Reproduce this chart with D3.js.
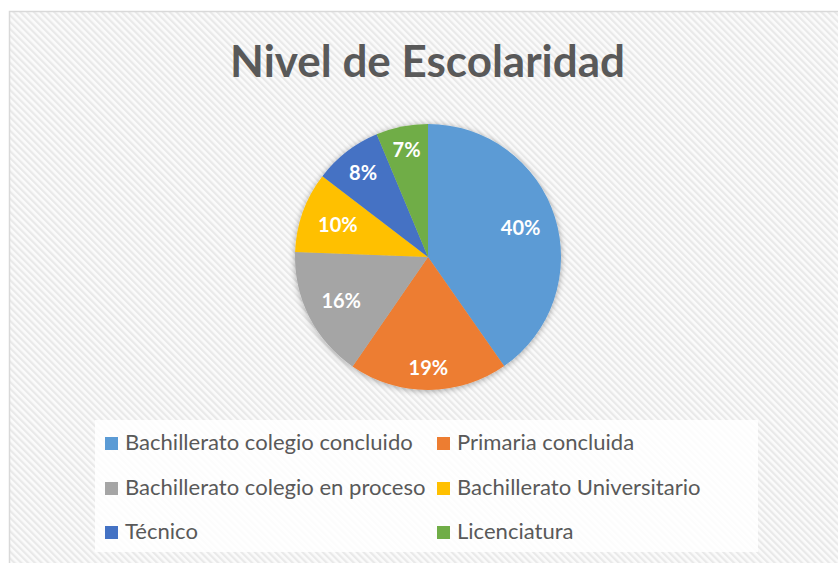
<!DOCTYPE html>
<html><head><meta charset="utf-8">
<script src="https://cdn.jsdelivr.net/npm/d3@7"></script>
<style>body{margin:0;background:#fff;overflow:hidden}</style>
</head><body><svg id="c" width="838" height="563"></svg>
<script>
// ---- data ----
const title = "Nivel de Escolaridad";
const categories = ["Bachillerato colegio concluido", "Primaria concluida", "Bachillerato colegio en proceso", "Bachillerato Universitario", "Técnico", "Licenciatura"];
const values = [40.3, 19.3, 16.0, 9.8, 8.3, 6.3];
const valueLabels = ["40%", "19%", "16%", "10%", "8%", "7%"];

// ---- style / layout ----
const colors = ["#5B9BD5", "#ED7D31", "#A5A5A5", "#FFC000", "#4472C4", "#70AD47"];
const labelRadiusRatio = [0.73, 0.835, 0.73, 0.72, 0.8, 0.82];
const W = 838, H = 563;
const cx = 428, cy = 257, R = 133;
const FONT = "Lato, 'Open Sans', sans-serif";

const svg = d3.select("#c");
const defs = svg.append("defs");
const pat = defs.append("pattern").attr("id", "hatch").attr("patternUnits", "userSpaceOnUse")
  .attr("width", 4.8).attr("height", 4.8).attr("patternTransform", "rotate(-45)");
pat.append("rect").attr("width", 4.8).attr("height", 4.8).attr("fill", "#fbfbfb");
pat.append("rect").attr("width", 2.2).attr("height", 4.8).attr("fill", "#e9e9e9");

const flt = defs.append("filter").attr("id", "shadow").attr("x", "-20%").attr("y", "-20%").attr("width", "140%").attr("height", "140%");
flt.append("feGaussianBlur").attr("in", "SourceAlpha").attr("stdDeviation", 3).attr("result", "b");
flt.append("feOffset").attr("in", "b").attr("dx", 0).attr("dy", 1).attr("result", "o");
flt.append("feComponentTransfer").attr("in", "o").attr("result", "t")
  .append("feFuncA").attr("type", "linear").attr("slope", 0.35);
const m = flt.append("feMerge");
m.append("feMergeNode").attr("in", "t");
m.append("feMergeNode").attr("in", "SourceGraphic");

// chart area background
svg.append("rect").attr("x", 9.5).attr("y", 11.5).attr("width", 900).attr("height", 600)
  .attr("fill", "url(#hatch)").attr("stroke", "#d9d9d9").attr("stroke-width", 1.5);

// title (fitted to reference width)
const t = svg.append("text").attr("x", 427.5).attr("y", 77).attr("text-anchor", "middle")
  .attr("font-family", FONT).attr("font-weight", "bold").attr("fill", "#595959")
  .attr("font-size", 40).text(title);
const tw = t.node().getComputedTextLength();
t.attr("font-size", 40 * 395 / tw);

// pie
const pie = d3.pie().sort(null).value(d => d);
const arcs = pie(values);
const arc = d3.arc().innerRadius(0).outerRadius(R);
const g = svg.append("g").attr("transform", `translate(${cx},${cy})`);
const slices = g.append("g").attr("filter", "url(#shadow)");
slices.selectAll("path").data(arcs).join("path")
  .attr("d", arc).attr("fill", (d, i) => colors[i]);

g.selectAll("text.lbl").data(arcs).join("text").attr("class", "lbl")
  .attr("transform", (d, i) => {
    const a = (d.startAngle + d.endAngle) / 2;
    const r = R * labelRadiusRatio[i];
    return `translate(${Math.sin(a) * r},${-Math.cos(a) * r})`;
  })
  .attr("text-anchor", "middle").attr("dy", "0.36em")
  .attr("font-family", FONT).attr("font-weight", "bold").attr("font-size", 20)
  .attr("fill", "#fff").text((d, i) => valueLabels[i]);

// legend
svg.append("rect").attr("x", 95).attr("y", 420).attr("width", 663).attr("height", 132)
  .attr("fill", "#ffffff").attr("opacity", 0.85);
const colX = [105, 437];
const rowY = [437, 482, 526];
const leg = svg.append("g");
categories.forEach((c, i) => {
  const x = colX[i % 2], y = rowY[Math.floor(i / 2)];
  leg.append("rect").attr("x", x).attr("y", y).attr("width", 13).attr("height", 13).attr("fill", colors[i]);
  leg.append("text").attr("class", "lt").attr("x", x + 20).attr("y", y + 12.5)
    .attr("font-family", FONT).attr("font-size", 19).attr("fill", "#595959").text(c);
});
// fit legend font to reference width of first entry
const first = leg.select("text.lt").node();
const lw = first.getComputedTextLength();
leg.selectAll("text.lt").attr("font-size", 19 * 288 / lw);
</script></body></html>
